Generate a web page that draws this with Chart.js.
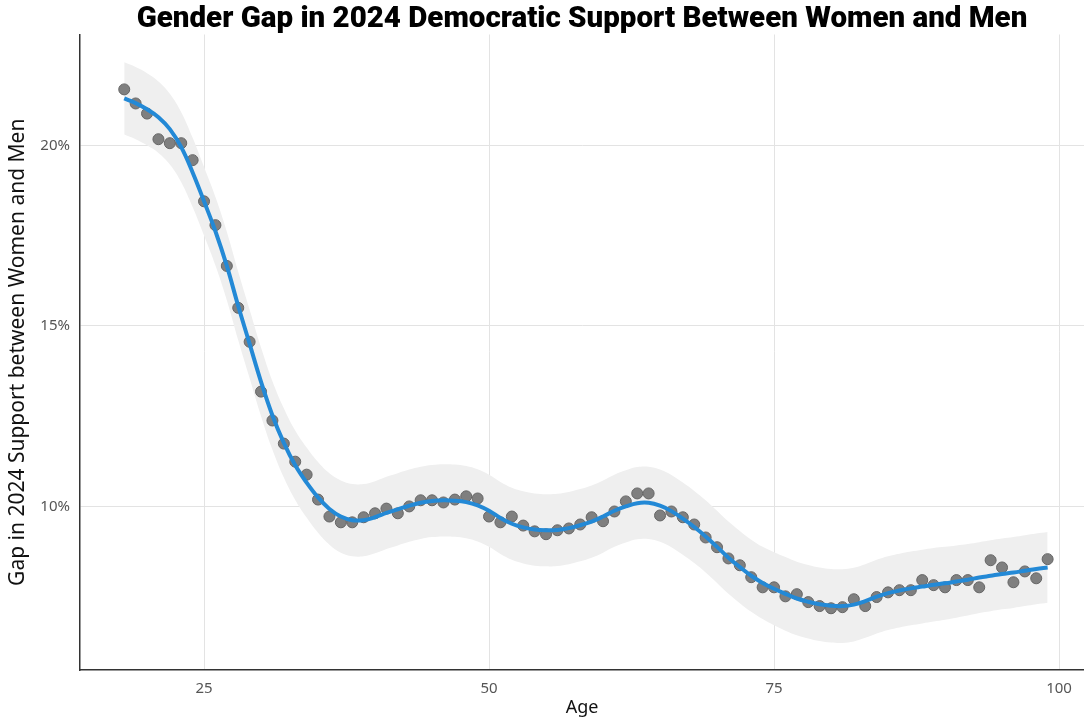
<!DOCTYPE html>
<html>
<head>
<meta charset="utf-8">
<script src="https://cdn.jsdelivr.net/npm/chart.js@4"></script>
<style>
  body { margin: 0; background: #fff; }
</style>
</head>
<body>
<canvas id="GAPCHART" width="1084" height="721"></canvas>
<script>
// ages 18..99
const ages = [18, 19, 20, 21, 22, 23, 24, 25, 26, 27, 28, 29, 30, 31, 32, 33, 34, 35, 36, 37, 38, 39,
    40, 41, 42, 43, 44, 45, 46, 47, 48, 49, 50, 51, 52, 53, 54, 55, 56, 57, 58, 59,
    60, 61, 62, 63, 64, 65, 66, 67, 68, 69, 70, 71, 72, 73, 74, 75, 76, 77, 78, 79,
    80, 81, 82, 83, 84, 85, 86, 87, 88, 89, 90, 91, 92, 93, 94, 95, 96, 97, 98, 99];

// observed gap (%)
const gap = [21.55, 21.16, 20.88, 20.17, 20.06, 20.06, 19.59, 18.45, 17.79, 16.66, 15.50, 14.56, 13.18, 12.38, 11.74, 11.24, 10.88, 10.19, 9.72, 9.56, 9.56, 9.70,
    9.81, 9.94, 9.81, 10.00, 10.17, 10.17, 10.11, 10.19, 10.28, 10.22, 9.72, 9.56, 9.72, 9.47, 9.31, 9.23, 9.34, 9.39, 9.50, 9.70,
    9.59, 9.86, 10.14, 10.36, 10.36, 9.75, 9.86, 9.70, 9.50, 9.14, 8.87, 8.56, 8.37, 8.04, 7.76, 7.76, 7.51, 7.57, 7.35, 7.24,
    7.18, 7.21, 7.43, 7.24, 7.49, 7.62, 7.68, 7.68, 7.96, 7.82, 7.76, 7.96, 7.96, 7.76, 8.51, 8.31, 7.90, 8.20, 8.01, 8.54];

// smoothed fit and its confidence band (%)
const fitted = [21.30, 21.17, 21.00, 20.78, 20.45, 19.95, 19.25, 18.45, 17.62, 16.66, 15.55, 14.50, 13.45, 12.52, 11.76, 11.14, 10.66, 10.25, 9.93, 9.72, 9.62, 9.62,
    9.70, 9.82, 9.92, 10.02, 10.10, 10.15, 10.17, 10.16, 10.12, 10.03, 9.88, 9.68, 9.52, 9.42, 9.36, 9.34, 9.35, 9.40, 9.48, 9.58,
    9.72, 9.88, 10.00, 10.09, 10.10, 10.02, 9.87, 9.66, 9.43, 9.17, 8.88, 8.58, 8.32, 8.08, 7.88, 7.72, 7.58, 7.45, 7.36, 7.29,
    7.25, 7.24, 7.28, 7.38, 7.50, 7.60, 7.67, 7.73, 7.78, 7.83, 7.87, 7.92, 7.97, 8.03, 8.08, 8.13, 8.17, 8.22, 8.27, 8.31];

const bandHigh = [22.30, 22.17, 22.00, 21.77, 21.43, 20.92, 20.21, 19.40, 18.57, 17.61, 16.50, 15.45, 14.40, 13.47, 12.72, 12.10, 11.63, 11.23, 10.92, 10.72, 10.62, 10.62,
    10.70, 10.82, 10.92, 11.02, 11.10, 11.15, 11.17, 11.16, 11.12, 11.03, 10.88, 10.68, 10.52, 10.42, 10.36, 10.34, 10.35, 10.40, 10.48, 10.58,
    10.72, 10.88, 11.00, 11.09, 11.10, 11.02, 10.87, 10.66, 10.43, 10.17, 9.88, 9.58, 9.32, 9.08, 8.88, 8.73, 8.60, 8.47, 8.38, 8.31,
    8.27, 8.26, 8.30, 8.40, 8.52, 8.62, 8.69, 8.75, 8.80, 8.85, 8.88, 8.92, 8.96, 9.01, 9.06, 9.11, 9.15, 9.20, 9.25, 9.29];

const bandLow = [20.30, 20.17, 20.00, 19.79, 19.47, 18.98, 18.29, 17.50, 16.67, 15.71, 14.60, 13.55, 12.50, 11.57, 10.80, 10.18, 9.69, 9.27, 8.94, 8.72, 8.62, 8.62,
    8.70, 8.82, 8.92, 9.02, 9.10, 9.15, 9.17, 9.16, 9.12, 9.03, 8.88, 8.68, 8.52, 8.42, 8.36, 8.34, 8.35, 8.40, 8.48, 8.58,
    8.72, 8.88, 9.00, 9.09, 9.10, 9.02, 8.87, 8.66, 8.43, 8.17, 7.88, 7.58, 7.32, 7.08, 6.88, 6.71, 6.56, 6.43, 6.34, 6.27,
    6.23, 6.22, 6.26, 6.36, 6.48, 6.58, 6.65, 6.71, 6.76, 6.81, 6.86, 6.92, 6.98, 7.05, 7.10, 7.15, 7.19, 7.24, 7.29, 7.33];

const xTicks = [25, 50, 75, 100];
const yTicks = [10, 15, 20];

function pts(ys) {
    return ages.map((a, i) => ({ x: a, y: ys[i] }));
}

let ctx = document.getElementById('GAPCHART');

let gap_chart = new Chart(ctx, {
    type: 'line',
    data: {
        datasets: [{
            label: 'fit',
            data: pts(fitted),
            borderColor: '#2389d6',
            borderWidth: 4,
            pointRadius: 0,
            tension: 0.4,
            fill: false
        }, {
            label: 'gap',
            data: pts(gap),
            showLine: false,
            pointRadius: 5.5,
            backgroundColor: '#7f7f7f',
            borderColor: '#666666',
            borderWidth: 1
        }, {
            label: 'upper',
            data: pts(bandHigh),
            borderWidth: 0,
            borderColor: 'rgba(0,0,0,0)',
            pointRadius: 0,
            tension: 0.4,
            fill: false
        }, {
            label: 'lower',
            data: pts(bandLow),
            borderWidth: 0,
            borderColor: 'rgba(0,0,0,0)',
            backgroundColor: '#efefef',
            pointRadius: 0,
            tension: 0.4,
            fill: '-1'
        }]
    },
    options: {
        responsive: false,
        animation: false,
        layout: { padding: 0, autoPadding: false },
        scales: {
            x: {
                type: 'linear',
                min: 14.12,
                max: 102.19,
                afterBuildTicks: (s) => { s.ticks = xTicks.map(v => ({ value: v })); },
                afterFit: (s) => { s.height = 51; s.paddingLeft = 0; s.paddingRight = 0; },
                grid: { color: '#e3e3e3', drawTicks: false },
                border: { display: true, color: '#333', width: 1.5 },
                ticks: {
                    padding: 10,
                    color: '#555',
                    font: { family: 'Noto Sans', size: 15 }
                },
                title: {
                    display: true,
                    text: 'Age',
                    color: '#111',
                    padding: { top: 0, bottom: 2 },
                    font: { family: 'Noto Sans', size: 18 }
                }
            },
            y: {
                min: 5.47,
                max: 23.07,
                afterBuildTicks: (s) => { s.ticks = yTicks.map(v => ({ value: v })); },
                afterFit: (s) => { s.width = 80; s.paddingTop = 0; s.paddingBottom = 0; },
                grid: { color: '#e3e3e3', drawTicks: false },
                border: { display: true, color: '#333', width: 1.5 },
                ticks: {
                    padding: 10,
                    color: '#555',
                    font: { family: 'Noto Sans', size: 15 },
                    callback: (v) => v + '%'
                },
                title: {
                    display: true,
                    text: 'Gap in 2024 Support between Women and Men',
                    color: '#111',
                    padding: { top: 5, bottom: 0 },
                    font: { family: 'Noto Sans', size: 21 }
                }
            }
        },
        plugins: {
            legend: { display: false },
            tooltip: { enabled: false },
            title: {
                display: true,
                fullSize: false,
                text: 'Gender Gap in 2024 Democratic Support Between Women and Men',
                color: '#000',
                padding: { top: 5, bottom: 0 },
                font: { family: 'Roboto', size: 29.5, weight: '900', lineHeight: 1.0 }
            }
        }
    }
});
</script>
</body>
</html>
